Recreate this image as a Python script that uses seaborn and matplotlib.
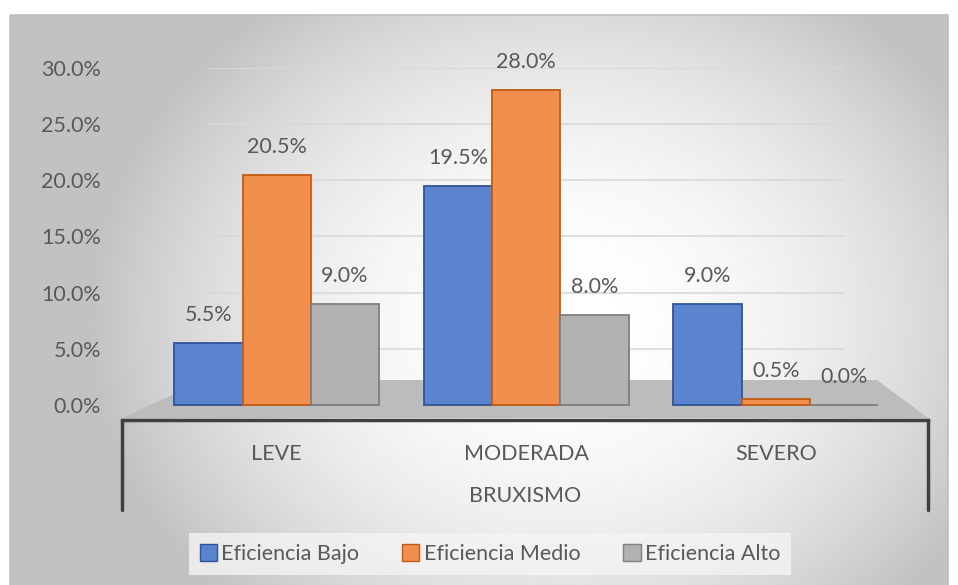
import numpy as np
import pandas as pd
import matplotlib
matplotlib.use("Agg")
import matplotlib.pyplot as plt
import seaborn as sns
from matplotlib.patches import Polygon, Rectangle
from matplotlib.lines import Line2D
from matplotlib.ticker import PercentFormatter

# ---------------- data ----------------
categories = ["LEVE", "MODERADA", "SEVERO"]
series = ["Eficiencia Bajo", "Eficiencia Medio", "Eficiencia Alto"]
bajo = [0.055, 0.195, 0.090]
medio = [0.205, 0.280, 0.005]
alto = [0.090, 0.080, 0.000]
y_ticks = [0.0, 0.05, 0.10, 0.15, 0.20, 0.25, 0.30]
x_title = "BRUXISMO"

face_colors = ["#5b84cf", "#f08f4e", "#b2b2b2"]
edge_colors = ["#2f5597", "#c55a11", "#7f7f7f"]

rows = []
for s, vals in zip(series, [bajo, medio, alto]):
    for c, v in zip(categories, vals):
        rows.append({"cat": c, "serie": s, "val": v})
df = pd.DataFrame(rows)

sns.set_theme(style="white")
plt.rcParams["font.family"] = ["Lato", "DejaVu Sans"]
TXT = "#595959"
FS = 15.5

W, H = 958, 585
fig = plt.figure(figsize=(W / 100, H / 100), dpi=100)

def fx(px):
    return px / W

def fy(py):
    return 1 - py / H

# ---------- background gradient (chart area) ----------
bg = fig.add_axes([0, 0, 1, 1], zorder=-5)
bg.set_xlim(0, W)
bg.set_ylim(H, 0)
bg.axis("off")
xx, yy = np.meshgrid(np.linspace(10, 948, 400), np.linspace(15, 585, 250))
r = np.sqrt(((xx - 560) / 500) ** 2 + ((yy - 320) / 420) ** 2)
grad = np.clip(1 - 0.27 * r ** 2, 0.76, 1)
bg.imshow(grad, extent=[10, 948, 585, 15], cmap="gray", vmin=0, vmax=1,
          aspect="auto", zorder=0, interpolation="bilinear")
bg.add_patch(Rectangle((10, 15), 938, 575, fill=False, ec="#bfbfbf", lw=1.2, zorder=1))
# floor
bg.add_patch(Polygon([(122, 418), (928, 418), (877, 380), (205, 380)],
                     closed=True, fc="#bcbcbc", ec="none", zorder=2))

# ---------- main axes ----------
ax_left, ax_right, ax_bottom, ax_top = 122, 928, 420, 68
ax = fig.add_axes([fx(ax_left), fy(ax_bottom), fx(ax_right - ax_left),
                   (ax_bottom - ax_top) / H])
ax.set_facecolor("none")

sns.barplot(data=df, x="cat", y="val", hue="serie", order=categories,
            hue_order=series, palette=face_colors, width=0.82,
            saturation=1, ax=ax, legend=True, zorder=3)

ylow = -0.30 * 15 / (405 - 68)
ax.set_ylim(ylow, 0.30)
ax.set_xlim(-0.62, 2.61)

for cont, ec in zip(ax.containers, edge_colors):
    for bar in cont:
        bar.set_edgecolor(ec)
        bar.set_linewidth(1.3)
    ax.bar_label(cont, labels=[f"{v * 100:.1f}%" for v in cont.datavalues],
                 padding=13, fontsize=FS, color=TXT)

# gridlines on back plane
for t in y_ticks[1:]:
    ax.axhline(t, xmin=(208 - ax_left) / (ax_right - ax_left),
               xmax=(843 - ax_left) / (ax_right - ax_left),
               color="#d9d9d9", lw=1.2, zorder=1)

ax.set_yticks(y_ticks)
ax.yaxis.set_major_formatter(PercentFormatter(1.0, decimals=1))
ax.tick_params(axis="y", length=0, pad=15, labelsize=FS, labelcolor=TXT)
ax.tick_params(axis="x", length=0, pad=17, labelsize=FS, labelcolor=TXT)
ax.set_xlabel(x_title, fontsize=FS, color=TXT, labelpad=16)
ax.set_ylabel("")

for s in ["top", "left", "right"]:
    ax.spines[s].set_visible(False)
ax.spines["bottom"].set_color("#404040")
ax.spines["bottom"].set_linewidth(2.5)

# category table side lines
depth = (510 - ax_bottom) / (ax_bottom - ax_top)
for xa in (0, 1):
    ax.add_line(Line2D([xa, xa], [0, -depth], transform=ax.transAxes,
                       color="#404040", lw=2.5, clip_on=False))

# legend
handles, labels = ax.get_legend_handles_labels()
for h, fc, ec in zip(handles, face_colors, edge_colors):
    h.set_facecolor(fc)
    h.set_edgecolor(ec)
ax.legend(handles, labels, ncol=3, loc="center",
          bbox_to_anchor=(fx(490), fy(554)), bbox_transform=fig.transFigure,
          frameon=True, facecolor="#f4f4f4", edgecolor="none", framealpha=0.8,
          fontsize=FS, labelcolor=TXT, handlelength=0.8, handleheight=0.8,
          handletextpad=0.2, columnspacing=2.0, borderpad=0.5, fancybox=False)

fig.savefig("out.png", dpi=100)
